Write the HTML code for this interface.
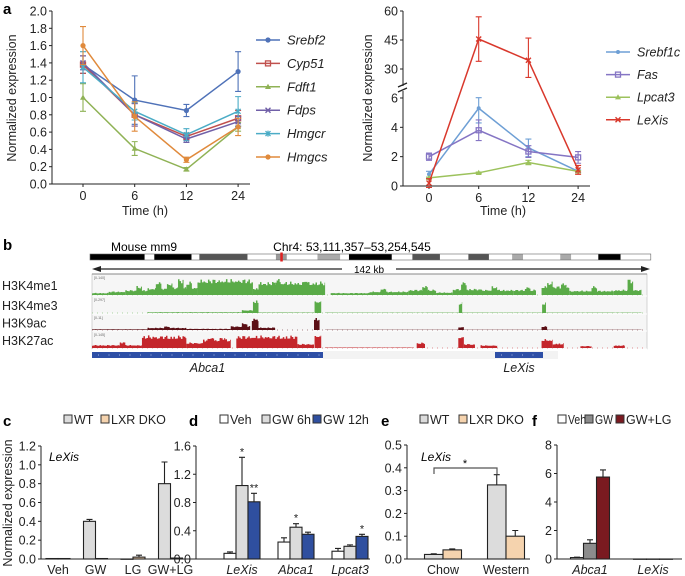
<!DOCTYPE html>
<html><head><meta charset="utf-8"><style>
html,body{margin:0;padding:0;background:#fff;}
svg{display:block;font-family:"Liberation Sans",Arial,sans-serif;}
</style></head><body>
<svg id="fig" width="685" height="576" viewBox="0 0 685 576">
<text x="3" y="14" font-size="15" font-weight="bold">a</text>
<text x="3" y="250" font-size="15" font-weight="bold">b</text>
<text x="3" y="426" font-size="15" font-weight="bold">c</text>
<text x="189" y="426" font-size="15" font-weight="bold">d</text>
<text x="381" y="426" font-size="15" font-weight="bold">e</text>
<text x="532" y="426" font-size="15" font-weight="bold">f</text>
<text transform="translate(16,98) rotate(-90)" text-anchor="middle" font-size="12.5" fill="#222">Normalized expression</text>
<text x="145" y="215" text-anchor="middle" font-size="12.5" fill="#222">Time (h)</text>
<text transform="translate(372,98) rotate(-90)" text-anchor="middle" font-size="12.5" fill="#222">Normalized expression</text>
<text x="503" y="215" text-anchor="middle" font-size="12.5" fill="#222">Time (h)</text>
<text transform="translate(12,503) rotate(-90)" text-anchor="middle" font-size="12.5" fill="#222">Normalized expression</text>
<text x="49" y="461" font-size="12" font-style="italic">LeXis</text>
<text x="421" y="461" font-size="12" font-style="italic">LeXis</text>
<text x="144" y="251" text-anchor="middle" font-size="12">Mouse mm9</text>
<text x="352" y="251" text-anchor="middle" font-size="12">Chr4: 53,111,357–53,254,545</text>
<text x="369" y="273" text-anchor="middle" font-size="10">142 kb</text>
<g id="root"></g>
</svg>
<script>
// ---------- Panel a data ----------
const timeLabels = ['0','6','12','24'];
const aLeftTicks = [0,0.2,0.4,0.6,0.8,1.0,1.2,1.4,1.6,1.8,2.0];
const aLeftNames = ['Srebf2','Cyp51','Fdft1','Fdps','Hmgcr','Hmgcs'];
const srebf2 = [1.38,0.97,0.85,1.30];
const cyp51 = [1.38,0.80,0.55,0.76];
const fdft1 = [1.00,0.41,0.17,0.66];
const fdps = [1.40,0.80,0.52,0.72];
const hmgcr = [1.35,0.84,0.57,0.84];
const hmgcs = [1.60,0.78,0.28,0.66];
const srebf2Err = [0.10,0.28,0.07,0.23];
const cyp51Err = [0.10,0.13,0.04,0.09];
const fdft1Err = [0.16,0.08,0.02,0.05];
const fdpsErr = [0.08,0.13,0.04,0.06];
const hmgcrErr = [0.18,0.10,0.07,0.17];
const hmgcsErr = [0.22,0.17,0.03,0.10];
const aRightTicks = [0,2,4,6,30,45,60];
const aRightNames = ['Srebf1c','Fas','Lpcat3','LeXis'];
const srebf1c = [0.8,5.3,2.6,1.0];
const fas = [2.0,3.8,2.35,1.95];
const lpcat3 = [0.55,0.9,1.6,1.0];
const lexis = [0.2,45.5,34.5,1.1];
const srebf1cErr = [0.2,1.0,0.6,0.1];
const fasErr = [0.25,0.7,0.4,0.4];
const lpcat3Err = [0.05,0.05,0.15,0.05];
const lexisErr = [0.3,11.5,11.5,0.3];
// ---------- Panel c-f data ----------
const cCats = ['Veh','GW','LG','GW+LG'];
const cTicks = [0,0.2,0.4,0.6,0.8,1.0,1.2];
const cWT = [0.005,0.40,0.0,0.80];
const cWTErr = [0,0.02,0,0.23];
const cDKO = [0.005,0.005,0.02,0.01];
const cDKOErr = [0,0,0.02,0];
const dCats = ['LeXis','Abca1','Lpcat3'];
const dTicks = [0,0.4,0.8,1.2,1.6];
const dVeh = [0.08,0.24,0.11];
const dVehErr = [0.02,0.06,0.04];
const dGW6 = [1.04,0.45,0.18];
const dGW6Err = [0.40,0.05,0.02];
const dGW12 = [0.81,0.35,0.32];
const dGW12Err = [0.12,0.03,0.03];
const dStars = [['','*','**'],['','*',''],['','','*']];
const eCats = ['Chow','Western'];
const eTicks = [0,0.1,0.2,0.3,0.4,0.5];
const eWT = [0.02,0.325];
const eWTErr = [0.003,0.045];
const eDKO = [0.04,0.10];
const eDKOErr = [0.004,0.025];
const fCats = ['Abca1','LeXis'];
const fTicks = [0,2,4,6,8];
const fVeh = [0.1,0];
const fVehErr = [0.03,0];
const fGW = [1.1,0];
const fGWErr = [0.25,0];
const fGWLG = [5.75,0];
const fGWLGErr = [0.5,0];
// ---------- Panel b data: [start fraction, end fraction, height] ----------
const k4me1 = [[0.00,0.03,0.12],[0.03,0.06,0.2],[0.06,0.1,0.28],[0.08,0.09,0.5],[0.1,0.14,0.4],[0.115,0.125,0.8],[0.135,0.145,0.7],[0.14,0.19,0.45],[0.155,0.165,0.9],[0.17,0.18,0.75],[0.19,0.29,0.9],[0.29,0.3,0.4],[0.3,0.42,0.75],[0.33,0.34,0.95],[0.38,0.39,0.9],[0.43,0.5,0.12],[0.5,0.57,0.2],[0.52,0.53,0.4],[0.57,0.62,0.3],[0.595,0.605,0.55],[0.62,0.65,0.15],[0.65,0.7,0.35],[0.665,0.675,0.75],[0.7,0.76,0.3],[0.72,0.73,0.5],[0.76,0.8,0.3],[0.78,0.79,0.45],[0.81,0.86,0.5],[0.82,0.83,0.75],[0.845,0.855,0.7],[0.86,0.94,0.25],[0.9,0.91,0.5],[0.94,0.99,0.3],[0.965,0.975,0.9]];
const k4me3 = [[0.1,0.27,0.06],[0.27,0.29,0.22],[0.29,0.3,0.95],[0.3,0.4,0.04],[0.401,0.413,0.95],[0.42,0.99,0.03],[0.661,0.667,0.8],[0.811,0.818,0.8]];
const k9ac = [[0.0,0.1,0.06],[0.1,0.17,0.18],[0.13,0.14,0.3],[0.17,0.25,0.1],[0.25,0.285,0.3],[0.27,0.28,0.55],[0.288,0.3,0.95],[0.3,0.33,0.2],[0.4,0.41,1.0],[0.42,0.99,0.02],[0.66,0.67,0.25],[0.81,0.82,0.3]];
const k27ac = [[0.0,0.09,0.22],[0.05,0.06,0.45],[0.09,0.17,0.9],[0.12,0.13,0.6],[0.17,0.2,0.4],[0.2,0.25,0.65],[0.21,0.22,0.85],[0.23,0.24,0.8],[0.26,0.37,0.9],[0.3,0.31,0.6],[0.34,0.35,0.55],[0.37,0.4,0.3],[0.401,0.413,1.0],[0.42,0.58,0.04],[0.585,0.6,0.4],[0.66,0.67,0.9],[0.67,0.69,0.3],[0.7,0.73,0.2],[0.81,0.83,0.65],[0.83,0.85,0.35],[0.88,0.9,0.15],[0.94,0.96,0.2]];

const NS='http://www.w3.org/2000/svg';
const root=document.getElementById('root');
function mk(tag,attrs,parent){const e=document.createElementNS(NS,tag);for(const k in attrs)e.setAttribute(k,attrs[k]);(parent||root).appendChild(e);return e;}
function txt(s,attrs){const e=mk('text',attrs);e.textContent=s;return e;}

// ---------- Panel a left ----------
const aLX=52, aLY0=184, aLY1=11;
function yL(v){return aLY0-(v/2.0)*(aLY0-aLY1);}
function xA(i){return 83+i*51.7;}
let el=mk('line',{x1:aLX,y1:aLY1,x2:aLX,y2:aLY0,stroke:'#222','stroke-width':1});


el=mk('line',{x1:aLX,y1:aLY0,x2:250,y2:aLY0,stroke:'#222','stroke-width':1});


aLeftTicks.forEach(t=>{
  el=mk('line',{x1:aLX-3,y1:yL(t),x2:aLX,y2:yL(t),stroke:'#222'});
  
  
  el=txt(t.toFixed(1),{x:aLX-5,y:yL(t)+4.5,'text-anchor':'end','font-size':12.5,fill:'#222'});
  
  
});
timeLabels.forEach((t,i)=>{
  el=mk('line',{x1:xA(i),y1:aLY0,x2:xA(i),y2:aLY0+3,stroke:'#222'});
  
  
  el=txt(t,{x:xA(i),y:aLY0+16,'text-anchor':'middle','font-size':12.5,fill:'#222'});
  
  
});
function marker(g,shape,x,y,c){
  if(shape==='circle'){mk('circle',{cx:x,cy:y,r:2.6,fill:c},g);}
  else if(shape==='square'){mk('rect',{x:x-2.5,y:y-2.5,width:5,height:5,fill:'none',stroke:c,'stroke-width':1.3},g);}
  else if(shape==='tri'){mk('path',{d:`M${x},${y-3}L${x+3},${y+2.2}L${x-3},${y+2.2}Z`,fill:c},g);}
  else if(shape==='x'){mk('path',{d:`M${x-2.5},${y-2.5}L${x+2.5},${y+2.5}M${x+2.5},${y-2.5}L${x-2.5},${y+2.5}`,stroke:c,'stroke-width':1.4},g);}
  else if(shape==='star'){mk('path',{d:`M${x-2.5},${y-2.5}L${x+2.5},${y+2.5}M${x+2.5},${y-2.5}L${x-2.5},${y+2.5}M${x},${y-3}L${x},${y+3}`,stroke:c,'stroke-width':1.3},g);}
  else {mk('circle',{cx:x,cy:y,r:2,fill:c},g);}
}
function series(name,vals,errs,c,shape,xf,yf){
  const g=mk('g',{});
  
  
  vals.forEach((v,i)=>{
    const x=xf(i);
    mk('path',{d:`M${x},${yf(v-errs[i])}L${x},${yf(v+errs[i])}M${x-3},${yf(v+errs[i])}L${x+3},${yf(v+errs[i])}M${x-3},${yf(v-errs[i])}L${x+3},${yf(v-errs[i])}`,stroke:c,'stroke-width':1.1,fill:'none'},g);
  });
  mk('polyline',{points:vals.map((v,i)=>xf(i)+','+yf(v)).join(' '),fill:'none',stroke:c,'stroke-width':1.5},g);
  vals.forEach((v,i)=>marker(g,shape,xf(i),yf(v),c));
}
function legendEntry(name,c,shape,x,y,fs){
  const g=mk('g',{});
  
  
  mk('line',{x1:x,y1:y,x2:x+24,y2:y,stroke:c,'stroke-width':1.5},g);
  marker(g,shape,x+12,y,c);
  const t=mk('text',{x:x+31,y:y+4.5,'font-size':fs,'font-style':'italic',fill:'#222'},g);t.textContent=name;
}
const aLSeries=[[srebf2,srebf2Err,'#4f72b8','circle'],[cyp51,cyp51Err,'#c0504d','square'],[fdft1,fdft1Err,'#8fb255','tri'],[fdps,fdpsErr,'#7160a8','x'],[hmgcr,hmgcrErr,'#4bacc6','star'],[hmgcs,hmgcsErr,'#e08a3c','circle']];
aLSeries.forEach((s,k)=>{series(aLeftNames[k],s[0],s[1],s[2],s[3],xA,yL);legendEntry(aLeftNames[k],s[2],s[3],256,40+k*23.4,13);});

// ---------- Panel a right (broken axis) ----------
const aRX=403, aRY0=186;
function yR(v){ if(v<=6) return aRY0-v*14.67; if(v>=30) return 69-(v-30)*1.933; return 98-(v-6)/24*29;}
function xR(i){return 429+i*49.7;}
el=mk('path',{d:`M${aRX},11L${aRX},86M${aRX},91L${aRX},${aRY0}`,stroke:'#222',fill:'none'});


el=mk('path',{d:`M${aRX-5},87L${aRX+4},83M${aRX-5},92L${aRX+4},88`,stroke:'#222','stroke-width':1.3,fill:'none'});


el=mk('line',{x1:aRX,y1:aRY0,x2:590,y2:aRY0,stroke:'#222'});


aRightTicks.forEach(t=>{
  el=mk('line',{x1:aRX-3,y1:yR(t),x2:aRX,y2:yR(t),stroke:'#222'});
  
  
  el=txt(String(t),{x:aRX-5,y:yR(t)+4.5,'text-anchor':'end','font-size':12.5,fill:'#222'});
  
  
});
timeLabels.forEach((t,i)=>{
  el=mk('line',{x1:xR(i),y1:aRY0,x2:xR(i),y2:aRY0+3,stroke:'#222'});
  
  
  el=txt(t,{x:xR(i),y:aRY0+16,'text-anchor':'middle','font-size':12.5,fill:'#222'});
  
  
});
const aRSeries=[[srebf1c,srebf1cErr,'#6e9fd5','dot'],[fas,fasErr,'#8575c4','square'],[lpcat3,lpcat3Err,'#9cc25c','tri'],[lexis,lexisErr,'#d9382c','x']];
aRSeries.forEach((s,k)=>{series(aRightNames[k],s[0],s[1],s[2],s[3],xR,yR);legendEntry(aRightNames[k],s[2],s[3],606,52+k*22.6,12.5);});

// ---------- Panel b ----------
const ideo=[[205,330,'#000'],[330,352,'#fff'],[352,437,'#000'],[437,455,'#fff'],[455,565,'#555'],[565,630,'#fff'],[630,655,'#999'],[655,725,'#fff'],[725,777,'#aaa'],[777,797,'#fff'],[797,895,'#000'],[895,942,'#fff'],[942,1005,'#555'],[1005,1070,'#fff'],[1070,1117,'#555'],[1117,1170,'#fff'],[1170,1195,'#aaa'],[1195,1280,'#fff'],[1280,1305,'#aaa'],[1305,1367,'#fff'],[1367,1418,'#000'],[1418,1487,'#fff']];
function zx(z){return 90+(z-205)/2.286;}
const ig=mk('g',{});


ideo.forEach(s=>mk('rect',{x:zx(s[0]),y:254,width:zx(s[1])-zx(s[0]),height:6,fill:s[2]},ig));
mk('rect',{x:zx(205),y:254,width:zx(1487)-zx(205),height:6,fill:'none',stroke:'#666','stroke-width':0.6},ig);
mk('rect',{x:zx(640),y:252.5,width:2.5,height:9,fill:'#e02020'},ig);
el=mk('path',{d:`M95,269L342,269M396,269L646,269`,stroke:'#222','stroke-width':1.2,fill:'none'});


mk('path',{d:'M92,269L101,266L101,272Z',fill:'#222'});
mk('path',{d:'M650,269L641,266L641,272Z',fill:'#222'});
const tx0=92, tW=555;
const tracks=[['H3K4me1',k4me1,274,296,'#5aab48','[0-140]'],['H3K4me3',k4me3,296,314,'#5aab48','[0-297]'],['H3K9ac',k9ac,314,331,'#5b1016','[0-11]'],['H3K27ac',k27ac,331,349,'#c4262b','[0-145]']];
el=mk('rect',{x:tx0,y:274,width:tW,height:75,fill:'#f6f6f6',stroke:'#bbb','stroke-width':0.6});


mk('line',{x1:tx0,y1:274,x2:tx0+tW,y2:274,stroke:'#888','stroke-width':1});
tracks.forEach(t=>{
  const g=mk('g',{});
  
  
  const top=t[2]+3, base=t[3]-1, h=base-top;
  mk('line',{x1:tx0,y1:t[3],x2:tx0+tW,y2:t[3],stroke:'#fff','stroke-width':1},g);
  mk('line',{x1:tx0,y1:base,x2:tx0+tW,y2:base,stroke:t[4],'stroke-width':0.6,'stroke-dasharray':'1 4'},g);
  t[1].forEach(p=>{
    const xa=tx0+p[0]*tW, xb=tx0+p[1]*tW;
    let pts=`M${xa},${base}`;
    for(let x=xa;x<=xb;x+=1.5){
      const j=p[2]*(0.72+0.28*Math.abs(Math.sin(x*1.37)*Math.cos(x*0.53)));
      pts+=`L${x},${base-j*h}L${Math.min(x+1.5,xb)},${base-j*h}`;
    }
    pts+=`L${xb},${base}Z`;
    mk('path',{d:pts,fill:t[4]},g);
  });
  const r=mk('text',{x:tx0+2,y:t[2]+5,'font-size':3.5,fill:'#666'},g);r.textContent=t[5];
  const l=mk('text',{x:2,y:t[2]+(t[3]-t[2])/2+5,'font-size':12.5,fill:'#222'},g);l.textContent=t[0];
});
function gene(name,x1,x2){
  const g=mk('g',{});
  
  
  mk('rect',{x:x1,y:352,width:x2-x1,height:6,fill:'#2e4fa6'},g);
  for(let x=x1+6;x<x2-2;x+=10.5) mk('line',{x1:x,y1:355,x2:x+1,y2:355,stroke:'#cfd8f0','stroke-width':0.8},g);
  const t=mk('text',{x:(x1+x2)/2,y:372,'text-anchor':'middle','font-size':12.5,'font-style':'italic',fill:'#222'},g);t.textContent=name;
}
mk('rect',{x:323,y:351,width:235,height:8,fill:'#f3f3f3'});
gene('Abca1',92,323);
gene('LeXis',495,543);

// ---------- Bar charts ----------
function barChart(o){
  const g=mk('g',{});
  
  
  const yf=v=>o.y0-(v/o.vmax)*(o.y0-o.y1);
  let a=mk('line',{x1:o.ax,y1:o.y1,x2:o.ax,y2:o.y0,stroke:'#222'},g);
  
  
  a=mk('line',{x1:o.ax,y1:o.y0,x2:o.axEnd,y2:o.y0,stroke:'#222'},g);
  
  
  o.ticks.forEach(t=>{
    mk('line',{x1:o.ax-3,y1:yf(t),x2:o.ax,y2:yf(t),stroke:'#222'},g);
    const tl=mk('text',{x:o.ax-5,y:yf(t)+4.5,'text-anchor':'end','font-size':12.5,fill:'#222'},g);
    tl.textContent=o.fmt(t);
  });
  o.cats.forEach((c,i)=>{
    const cx=o.c0+i*o.cStep;
    const tl=mk('text',{x:cx,y:o.y0+15,'text-anchor':'middle','font-size':12.5,'font-style':o.italic?'italic':'normal',fill:'#222'},g);
    tl.textContent=c;
    o.series.forEach((s,k)=>{
      const v=s[0][i], e=s[1][i];
      const x=cx+(k-(o.series.length-1)/2)*o.bw-o.bw/2;
      const b=mk('rect',{x:x,y:yf(v),width:o.bw,height:Math.max(0.3,o.y0-yf(v)),fill:s[2],stroke:'#222','stroke-width':1.1},g);
      
      
      if(e>0){
        mk('path',{d:`M${x+o.bw/2},${yf(v)}L${x+o.bw/2},${yf(v+e)}M${x+o.bw/2-3},${yf(v+e)}L${x+o.bw/2+3},${yf(v+e)}`,stroke:'#222','stroke-width':1.1,fill:'none'},g);
      }
      if(o.stars && o.stars[i][k]){
        const st=mk('text',{x:x+o.bw/2,y:yf(v+e)-2,'text-anchor':'middle','font-size':11,fill:'#222'},g);
        st.textContent=o.stars[i][k];
      }
    });
  });
}
barChart({name:'panel-c-chart',ax:41,axEnd:193,y0:559,y1:446,vmax:1.2,ticks:cTicks,fmt:t=>t.toFixed(1),cats:cCats,c0:58,cStep:37.5,bw:12,
  series:[[cWT,cWTErr,'#dcdcdc'],[cDKO,cDKOErr,'#f5d3ae']]});
barChart({name:'panel-d-chart',ax:196,axEnd:370,y0:559,y1:446,vmax:1.6,ticks:dTicks,fmt:t=>t.toFixed(1),cats:dCats,c0:242,cStep:54,bw:12,italic:true,stars:dStars,
  series:[[dVeh,dVehErr,'#ffffff'],[dGW6,dGW6Err,'#dcdcdc'],[dGW12,dGW12Err,'#2f4f9f']]});
barChart({name:'panel-e-chart',ax:407,axEnd:530,y0:559,y1:445,vmax:0.5,ticks:eTicks,fmt:t=>t.toFixed(1),cats:eCats,c0:443,cStep:63,bw:18.5,
  series:[[eWT,eWTErr,'#dcdcdc'],[eDKO,eDKOErr,'#f5d3ae']]});
barChart({name:'panel-f-chart',ax:557,axEnd:682,y0:559,y1:445,vmax:8,ticks:fTicks,fmt:t=>String(t),cats:fCats,c0:590,cStep:63,bw:13,italic:true,
  series:[[fVeh,fVehErr,'#ffffff'],[fGW,fGWErr,'#8c8c8c'],[fGWLG,fGWLGErr,'#7a1a20']]});
el=mk('path',{d:'M434,474L434,468L497,468L497,474',stroke:'#555','stroke-width':1.2,fill:'none'});


el=txt('*',{x:465,y:467,'text-anchor':'middle','font-size':11});



// ---------- Legends c-f ----------
function boxLegend(name,x,label,fill,w){
  const g=mk('g',{});
  
  
  mk('rect',{x:x,y:415,width:8,height:8,fill:fill,stroke:'#333','stroke-width':1},g);
  const attrs={x:x+10,y:424,'font-size':12.5,fill:'#222'};
  if(w){attrs.textLength=w;attrs.lengthAdjust='spacingAndGlyphs';}
  const t=mk('text',attrs,g);t.textContent=label;
}
boxLegend('c-wt',64,'WT','#dcdcdc');
boxLegend('c-lxr-dko',101,'LXR DKO','#f5d3ae');
boxLegend('d-veh',220,'Veh','#fff');
boxLegend('d-gw6h',262,'GW 6h','#dcdcdc');
boxLegend('d-gw12h',313,'GW 12h','#2f4f9f');
boxLegend('e-wt',420,'WT','#dcdcdc');
boxLegend('e-lxr-dko',459,'LXR DKO','#f5d3ae');
boxLegend('f-veh',558,'Veh','#fff',18);
boxLegend('f-gw',585,'GW','#8c8c8c',18);
boxLegend('f-gwlg',616,'GW+LG','#7a1a20');
</script>
</body></html>
